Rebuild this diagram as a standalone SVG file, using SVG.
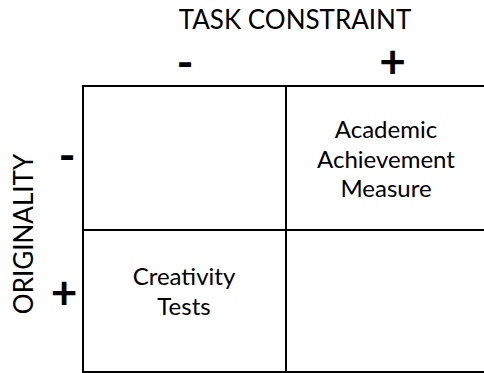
<svg xmlns="http://www.w3.org/2000/svg" width="484" height="373" viewBox="0 0 484 373">
  <style>
    text { font-family: Lato, "Open Sans", "Liberation Sans", sans-serif; fill: #000; }
    .axis { font-size: 26px; }
    .cell { font-size: 24px; text-anchor: middle; }
    .sign { font-size: 46px; font-weight: bold; text-anchor: middle; }
    .grid { fill: none; stroke: #000; stroke-width: 2; }
  </style>
  <rect width="484" height="373" fill="#fff"/>

  <!-- axis titles -->
  <g id="axis-task-constraint">
    <text class="axis" x="295" y="29" text-anchor="middle">TASK CONSTRAINT</text>
    <text class="sign" x="185" y="79">-</text>
    <text class="sign" x="392.5" y="78">+</text>
  </g>
  <g id="axis-originality">
    <text class="axis" transform="translate(33,234) rotate(-90)" text-anchor="middle">ORIGINALITY</text>
    <text class="sign" x="67" y="172">-</text>
    <text class="sign" x="64" y="309">+</text>
  </g>

  <!-- 2x2 grid, right edge runs past the canvas -->
  <g id="grid-lines">
    <rect class="grid" x="83" y="86" width="406" height="286"/>
    <line class="grid" x1="286" y1="86" x2="286" y2="372"/>
    <line class="grid" x1="83" y1="230" x2="489" y2="230"/>
  </g>

  <g id="cell-low-low"></g>
  <g id="cell-low-high">
    <text class="cell" x="386" y="138">Academic</text>
    <text class="cell" x="386" y="168">Achievement</text>
    <text class="cell" x="386" y="197">Measure</text>
  </g>
  <g id="cell-high-low">
    <text class="cell" x="184" y="285">Creativity</text>
    <text class="cell" x="184" y="315">Tests</text>
  </g>
  <g id="cell-high-high"></g>
</svg>
